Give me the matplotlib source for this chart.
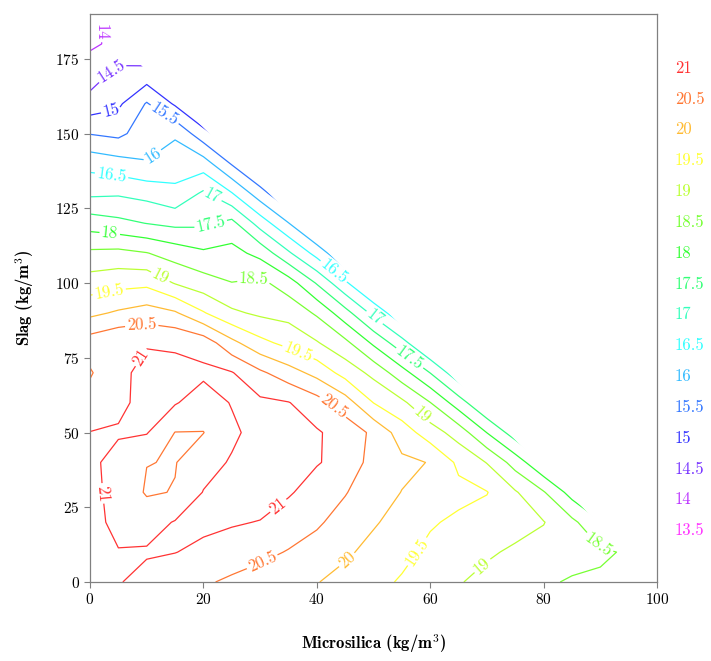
import numpy as np
import matplotlib
matplotlib.use("Agg")
import matplotlib.pyplot as plt
from matplotlib.patches import Polygon
from matplotlib.colors import hsv_to_rgb

plt.rcParams['font.family'] = 'cmr10'
plt.rcParams['mathtext.fontset'] = 'cm'
plt.rcParams['axes.formatter.use_mathtext'] = True

# grid: microsilica (x) every 5, slag (y) every 10
microsilica = np.arange(0, 101, 5)
slag = np.arange(0, 191, 10)

# strength, one list per slag row (nodes past the mix limit left out)
z_y0 = [21.2, 21.03, 20.84, 20.7, 20.56, 20.42, 20.28, 20.15, 20.02, 19.83, 19.64,
        19.45, 19.24, 19.03, 18.87, 18.72, 18.57, 18.45, 18.42, 18.4, 18.35]
z_y10 = [21.2, 21.02, 21.05, 21.01, 20.9, 20.75, 20.63, 20.47, 20.3, 20.08, 19.85,
         19.63, 19.39, 19.22, 19.06, 18.93, 18.81, 18.69, 18.58, 18.44, 17.55]
z_y20 = [21.15, 20.88, 20.8, 21.03, 21.1, 21.05, 20.98, 20.77, 20.57, 20.3, 20.05,
         19.82, 19.55, 19.41, 19.29, 19.16, 19.02, 18.62, 18.05, 17.3]
z_y30 = [21.12, 20.85, 20.45, 20.52, 21.02, 21.2, 21.25, 21.05, 20.8, 20.53, 20.2,
         19.99, 19.77, 19.63, 19.52, 19.05, 18.54, 17.8, 17.03]
z_y40 = [21.06, 20.9, 20.51, 20.48, 20.8, 21.05, 21.25, 21.2, 21.03, 20.85, 20.3,
         20.1, 19.98, 19.4, 18.98, 18.29, 17.52, 16.76]
z_y50 = [21.01, 21.03, 21.03, 20.49, 20.49, 20.9, 21.2, 21.2, 21.05, 20.8, 20.4,
         19.76, 19.24, 18.78, 17.99, 17.24, 16.44]
z_y60 = [20.7, 20.93, 21.1, 21.04, 20.75, 21.03, 21.1, 21.02, 20.71, 20.24, 19.49,
         19.11, 18.51, 17.74, 16.95, 16.19]
z_y70 = [20.45, 20.9, 21.12, 21.1, 21.1, 21.03, 20.59, 20.22, 19.84, 19.31, 18.86,
         18.2, 17.49, 16.66, 15.89]
z_y80 = [20.75, 20.96, 20.97, 20.95, 20.8, 20.14, 19.64, 19.35, 19.04, 18.63, 17.91,
         17.18, 16.38, 15.53]
z_y90 = [19.88, 20.07, 20.23, 20.06, 19.54, 19.09, 18.91, 18.83, 18.43, 17.69, 16.86,
         16.11, 15.26]
z_y100 = [19.24, 19.34, 19.38, 18.97, 18.72, 18.51, 18.62, 18.25, 17.46, 16.59, 15.8, 14.97]
z_y110 = [18.6, 18.64, 18.52, 18.28, 18.08, 18.17, 17.85, 17.08, 16.32, 15.48, 14.77]
z_y120 = [17.77, 17.63, 17.49, 17.38, 17.41, 17.65, 16.79, 16.02, 15.2, 14.54]
z_y130 = [16.9, 16.94, 16.83, 16.62, 17.08, 16.53, 15.72, 14.95, 14.32]
z_y140 = [16.33, 16.19, 16.03, 16.26, 16.24, 15.45, 14.74, 14.05]
z_y150 = [15.48, 15.38, 15.77, 15.93, 15.18, 14.53, 13.8]
z_y160 = [14.7, 14.91, 15.54, 14.93, 14.26, 13.55]
z_y170 = [14.23, 14.65, 14.7, 13.98, 13.26]
z_y180 = [13.93, 14.1, 13.95, 13.0]
z_y190 = [13.98, 14.03, 13.7]

rows = [z_y0, z_y10, z_y20, z_y30, z_y40, z_y50, z_y60, z_y70, z_y80, z_y90,
        z_y100, z_y110, z_y120, z_y130, z_y140, z_y150, z_y160, z_y170, z_y180, z_y190]

levels = [13.5, 14.0, 14.5, 15.0, 15.5, 16.0, 16.5, 17.0, 17.5,
          18.0, 18.5, 19.0, 19.5, 20.0, 20.5, 21.0]

# where the contour labels sit (picked near the labels of the chart)
label_spots = {
    14.0: [(2.0, 184)],
    14.5: [(5.0, 168)],
    15.0: [(4.0, 155)],
    15.5: [(12.0, 153)],
    16.0: [(12.0, 140)],
    16.5: [(3.8, 136), (42.6, 103)],
    17.0: [(21.0, 127), (50.0, 88)],
    17.5: [(22.0, 116), (56.4, 75)],
    18.0: [(3.5, 117)],
    18.5: [(29.0, 100), (90.0, 13)],
    19.0: [(12.9, 104), (59.1, 57), (68.0, 8)],
    19.5: [(3.5, 96), (36.7, 77), (57.0, 11)],
    20.0: [(45.0, 8)],
    20.5: [(9.2, 85), (43.5, 60), (30.3, 7)],
    21.0: [(5.0, 80), (33.0, 26), (4.0, 30)],
}


def level_color(v):
    h = (21.0 - v) / 7.5 * (300.0 / 360.0)
    return hsv_to_rgb((h, 0.8, 1.0))


Z = np.full((len(slag), len(microsilica)), np.nan)
for i, r in enumerate(rows):
    Z[i, :len(r)] = r
Z = np.ma.masked_invalid(Z)

fig = plt.figure(figsize=(7.11, 6.61), dpi=100)
ax = fig.add_axes([0.1266, 0.1195, 0.7975, 0.8593])

# only mixes with microsilica/100 + slag/190 <= 1 are drawn
tri = Polygon([(0, 0), (100, 0), (0, 190)], closed=True, transform=ax.transData)

for lev in levels:
    cs = ax.contour(microsilica, slag, Z, levels=[lev], colors=[level_color(lev)],
                    linewidths=0.9)
    cs.set_clip_path(tri)
    if lev in label_spots:
        ax.clabel(cs, manual=label_spots[lev], inline=True, fontsize=12, fmt='%g',
                  inline_spacing=2)

ax.set_xlim(0, 100)
ax.set_ylim(0, 190)
ax.set_xticks([0, 20, 40, 60, 80, 100])
ax.set_yticks([0, 25, 50, 75, 100, 125, 150, 175])
ax.tick_params(direction='out', length=4, color='#808080', labelsize=11,
               top=False, right=False)
for s in ax.spines.values():
    s.set_color('#808080')
    s.set_linewidth(0.9)

ax.set_xlabel(r'Microsilica (kg/m$^{\mathbf{3}}$)', fontfamily='cmb10', fontsize=12,
              labelpad=18)
ax.set_ylabel(r'Slag (kg/m$^{\mathbf{3}}$)', fontfamily='cmb10', fontsize=12,
              labelpad=14)

# level list on the right side
for k, lev in enumerate(levels[::-1]):
    fig.text(0.949, 0.897 - k * 0.04664, '%g' % lev, color=level_color(lev),
             fontsize=12, va='center', ha='left')

fig.savefig('out.png', dpi=100)
